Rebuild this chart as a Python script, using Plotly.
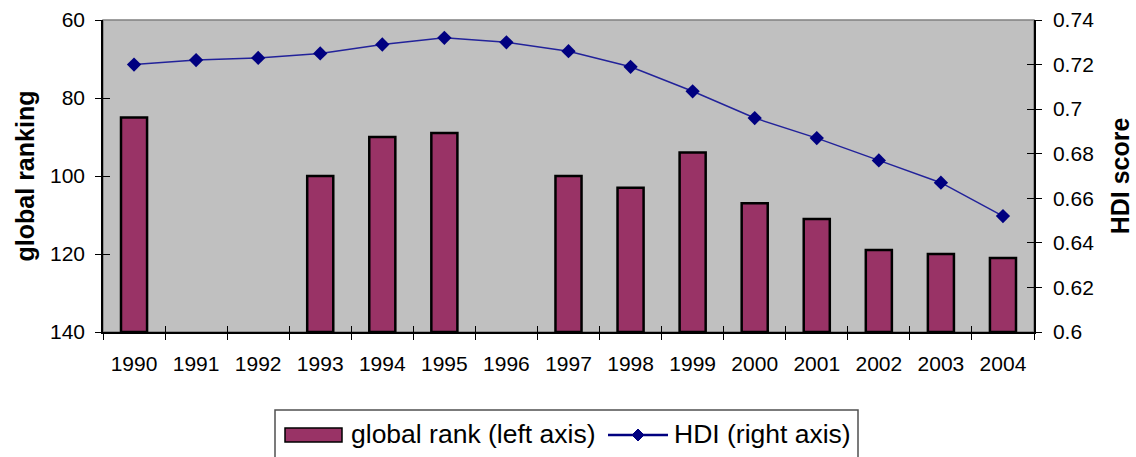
import plotly.graph_objects as go

# Data
years = ["1990", "1991", "1992", "1993", "1994", "1995", "1996", "1997",
         "1998", "1999", "2000", "2001", "2002", "2003", "2004"]
global_rank = [85, None, None, 100, 90, 89, None, 100, 103, 94, 107, 111, 119, 120, 121]
hdi_score = [0.720, 0.722, 0.723, 0.725, 0.729, 0.732, 0.730, 0.726,
             0.719, 0.708, 0.696, 0.687, 0.677, 0.667, 0.652]

rank_tick_labels = [60, 80, 100, 120, 140]
hdi_tick_labels = [0.6, 0.62, 0.64, 0.66, 0.68, 0.7, 0.72, 0.74]

rank_name = "global rank (left axis)"
hdi_name = "HDI (right axis)"

RANK_FLOOR = 140
FONT = "Liberation Sans, Arial, sans-serif"
BAR_COLOR = "#993366"
LINE_COLOR = "#22229a"
MARKER_COLOR = "#000080"

W, H = 1136, 457
ML, MR, MT, MB = 103, 102, 20, 125
PW, PH = W - ML - MR, H - MT - MB


def px_x(px):
    """Pixel column -> paper x."""
    return (px - ML) / PW


def px_y(py):
    """Pixel row -> paper y."""
    return (H - MB - py) / PH


fig = go.Figure()

# Bars rise from the bottom of the (reversed) ranking axis up to the rank
fig.add_trace(go.Bar(
    x=years,
    y=[None if r is None else r - RANK_FLOOR for r in global_rank],
    base=RANK_FLOOR,
    name=rank_name,
    marker=dict(color=BAR_COLOR, line=dict(color="black", width=2.5)),
    width=0.42,
    yaxis="y",
    showlegend=False,
))

fig.add_trace(go.Scatter(
    x=years,
    y=hdi_score,
    name=hdi_name,
    mode="lines+markers",
    line=dict(color=LINE_COLOR, width=1.5),
    marker=dict(symbol="diamond", size=11, color=MARKER_COLOR),
    yaxis="y2",
    showlegend=False,
))

# Empty helper traces so the overlay axes (inner halves of the crossing ticks) get drawn
fig.add_trace(go.Scatter(x=[None], y=[None], xaxis="x2", yaxis="y3",
                         showlegend=False, hoverinfo="skip"))
fig.add_trace(go.Scatter(x=[None], y=[None], xaxis="x2", yaxis="y4",
                         showlegend=False, hoverinfo="skip"))

tick_font = dict(family=FONT, size=21, color="black")
title_font = dict(family=FONT, size=25, color="black")

# Boxed legend below the plot: bar swatch, line-with-diamond swatch, labels
legend_shapes = [
    dict(type="rect", xref="paper", yref="paper",
         x0=px_x(275), x1=px_x(858), y0=px_y(475), y1=px_y(410),
         line=dict(color="#505050", width=1.5), fillcolor="white", layer="above"),
    dict(type="rect", xref="paper", yref="paper",
         x0=px_x(285), x1=px_x(342), y0=px_y(442), y1=px_y(428),
         line=dict(color="black", width=1.5), fillcolor=BAR_COLOR, layer="above"),
    dict(type="line", xref="paper", yref="paper",
         x0=px_x(608), x1=px_x(668), y0=px_y(435), y1=px_y(435),
         line=dict(color=MARKER_COLOR, width=2.5), layer="above"),
    dict(type="path", xref="paper", yref="paper",
         path="M {a},{c} L {m},{t} L {b},{c} L {m},{btm} Z".format(
             a=px_x(632), b=px_x(644), m=px_x(638),
             c=px_y(435), t=px_y(429), btm=px_y(441)),
         line=dict(color=MARKER_COLOR, width=1), fillcolor=MARKER_COLOR, layer="above"),
]

legend_texts = [
    dict(text=rank_name, x=px_x(349), y=px_y(434), xref="paper", yref="paper",
         xanchor="left", yanchor="middle", showarrow=False,
         font=dict(family=FONT, size=26.5, color="black")),
    dict(text=hdi_name, x=px_x(672), y=px_y(434), xref="paper", yref="paper",
         xanchor="left", yanchor="middle", showarrow=False,
         font=dict(family=FONT, size=26.5, color="black")),
]

fig.update_layout(
    width=W, height=H,
    margin=dict(l=ML, r=MR, t=MT, b=MB, autoexpand=False),
    paper_bgcolor="white",
    plot_bgcolor="#c0c0c0",
    showlegend=False,
    xaxis=dict(
        type="category",
        tickson="boundaries",
        ticks="outside", ticklen=6, tickcolor="black", tickwidth=1,
        showline=True, linecolor="black", linewidth=1.5,
        showgrid=False,
        tickfont=tick_font,
        ticklabelstandoff=12,
        range=[-0.5, 14.5],
        automargin=False,
    ),
    xaxis2=dict(
        overlaying="x", range=[-0.5, 14.5],
        tickmode="array", tickvals=[i + 0.5 for i in range(14)],
        ticks="inside", ticklen=6, tickcolor="black", tickwidth=1,
        showticklabels=False, showgrid=False, showline=False, zeroline=False,
        automargin=False,
    ),
    yaxis=dict(
        title=dict(text="<b>global ranking</b>", font=title_font, standoff=8),
        range=[RANK_FLOOR, 60],
        tickmode="array", tickvals=rank_tick_labels,
        ticks="outside", ticklen=6, tickcolor="black", tickwidth=1,
        showline=True, linecolor="black", linewidth=1.5,
        showgrid=False, zeroline=False,
        tickfont=tick_font,
        ticklabelstandoff=6,
        automargin=False,
    ),
    yaxis2=dict(
        title=dict(text="<b>HDI score</b>", font=title_font, standoff=18),
        overlaying="y", side="right",
        range=[0.6, 0.74],
        tickmode="array", tickvals=hdi_tick_labels,
        ticks="outside", ticklen=6, tickcolor="black", tickwidth=1,
        showline=True, linecolor="black", linewidth=1.5,
        showgrid=False, zeroline=False,
        tickfont=tick_font,
        ticklabelstandoff=7,
        automargin=False,
    ),
    yaxis3=dict(
        overlaying="y", range=[RANK_FLOOR, 60],
        tickmode="array", tickvals=rank_tick_labels,
        ticks="inside", ticklen=7, tickcolor="black", tickwidth=1,
        showticklabels=False, showgrid=False, showline=False, zeroline=False,
        automargin=False,
    ),
    yaxis4=dict(
        overlaying="y", side="right", range=[0.6, 0.74],
        tickmode="array", tickvals=hdi_tick_labels,
        ticks="inside", ticklen=7, tickcolor="black", tickwidth=1,
        showticklabels=False, showgrid=False, showline=False, zeroline=False,
        automargin=False,
    ),
    shapes=[dict(
        type="rect", xref="paper", yref="paper",
        x0=0, x1=1, y0=0, y1=1,
        line=dict(color="#808080", width=1.5),
        layer="below",
    )] + legend_shapes,
    annotations=legend_texts,
)

fig.write_html("out.html")
